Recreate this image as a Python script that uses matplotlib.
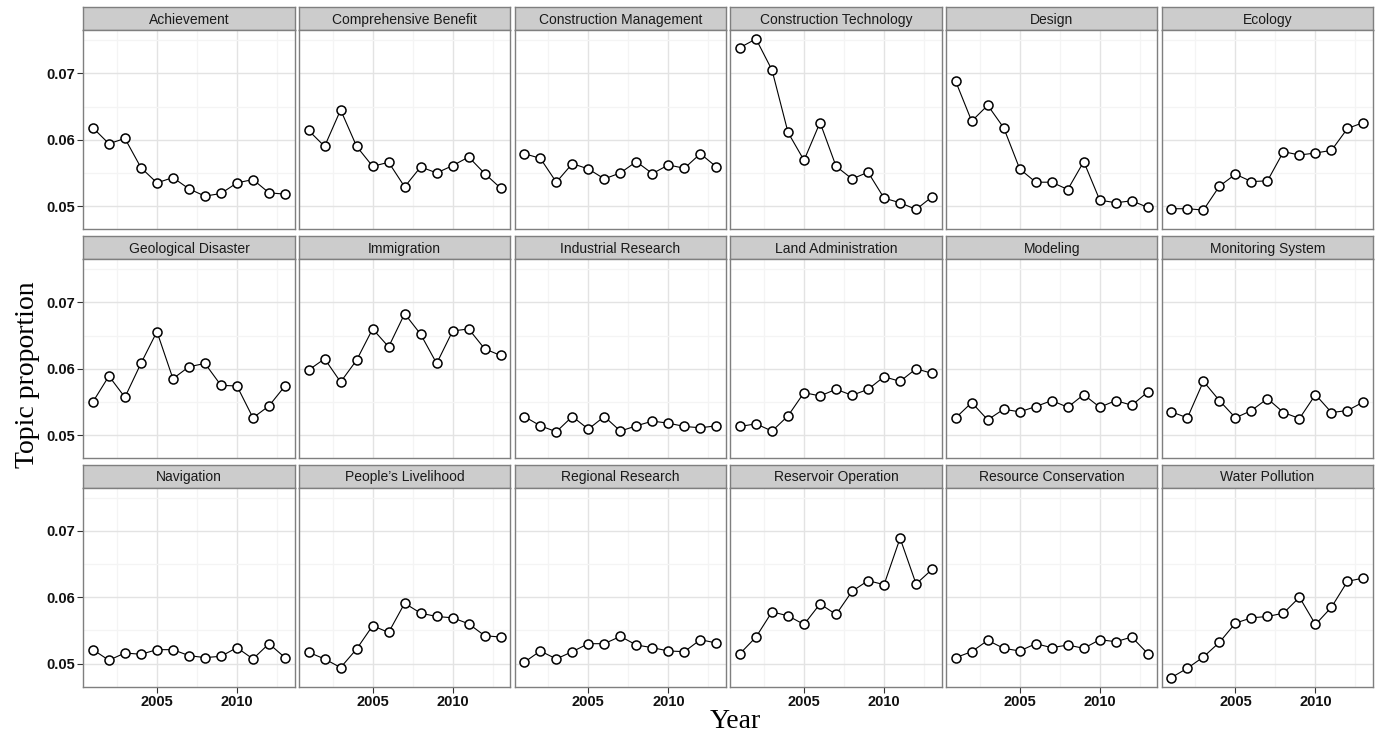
import numpy as np
import matplotlib
matplotlib.use("Agg")
import matplotlib.pyplot as plt

years = np.arange(2001, 2014)

achievement = [0.0618, 0.0594, 0.0602, 0.0558, 0.0535, 0.0543, 0.0526, 0.0515, 0.0519, 0.0535, 0.0540, 0.0520, 0.0518]
comprehensive_benefit = [0.0614, 0.0590, 0.0645, 0.0590, 0.0560, 0.0566, 0.0529, 0.0559, 0.0550, 0.0561, 0.0574, 0.0549, 0.0527]
construction_management = [0.0579, 0.0572, 0.0536, 0.0564, 0.0556, 0.0541, 0.0550, 0.0567, 0.0549, 0.0562, 0.0557, 0.0579, 0.0559]
construction_technology = [0.0739, 0.0752, 0.0705, 0.0611, 0.0569, 0.0626, 0.0560, 0.0541, 0.0551, 0.0512, 0.0505, 0.0495, 0.0514]
design = [0.0688, 0.0628, 0.0652, 0.0618, 0.0556, 0.0536, 0.0536, 0.0525, 0.0567, 0.0509, 0.0505, 0.0508, 0.0498]
ecology = [0.0496, 0.0496, 0.0494, 0.0530, 0.0548, 0.0537, 0.0538, 0.0582, 0.0577, 0.0580, 0.0584, 0.0617, 0.0626]
geological_disaster = [0.0550, 0.0589, 0.0557, 0.0608, 0.0656, 0.0585, 0.0603, 0.0608, 0.0575, 0.0574, 0.0526, 0.0544, 0.0574]
immigration = [0.0598, 0.0615, 0.0580, 0.0613, 0.0660, 0.0633, 0.0683, 0.0652, 0.0608, 0.0657, 0.0660, 0.0630, 0.0620]
industrial_research = [0.0528, 0.0514, 0.0505, 0.0528, 0.0509, 0.0528, 0.0506, 0.0514, 0.0521, 0.0518, 0.0513, 0.0511, 0.0514]
land_administration = [0.0513, 0.0517, 0.0506, 0.0529, 0.0564, 0.0559, 0.0569, 0.0560, 0.0569, 0.0588, 0.0581, 0.0600, 0.0593]
modeling = [0.0526, 0.0549, 0.0523, 0.0539, 0.0535, 0.0543, 0.0552, 0.0542, 0.0561, 0.0542, 0.0552, 0.0545, 0.0565]
monitoring_system = [0.0535, 0.0526, 0.0581, 0.0552, 0.0526, 0.0537, 0.0555, 0.0534, 0.0525, 0.0561, 0.0534, 0.0537, 0.0550]
navigation = [0.0521, 0.0505, 0.0516, 0.0514, 0.0521, 0.0521, 0.0512, 0.0509, 0.0511, 0.0524, 0.0507, 0.0530, 0.0509]
peoples_livelihood = [0.0517, 0.0507, 0.0494, 0.0522, 0.0557, 0.0547, 0.0591, 0.0576, 0.0571, 0.0569, 0.0560, 0.0542, 0.0540]
regional_research = [0.0502, 0.0519, 0.0507, 0.0518, 0.0530, 0.0530, 0.0541, 0.0528, 0.0524, 0.0519, 0.0518, 0.0536, 0.0531]
reservoir_operation = [0.0515, 0.0540, 0.0578, 0.0572, 0.0559, 0.0590, 0.0574, 0.0609, 0.0625, 0.0619, 0.0689, 0.0620, 0.0642]
resource_conservation = [0.0509, 0.0518, 0.0535, 0.0523, 0.0519, 0.0530, 0.0524, 0.0528, 0.0523, 0.0536, 0.0533, 0.0540, 0.0515]
water_pollution = [0.0479, 0.0493, 0.0510, 0.0532, 0.0561, 0.0569, 0.0571, 0.0576, 0.0600, 0.0559, 0.0585, 0.0624, 0.0629]

topics = [
    ("Achievement", achievement),
    ("Comprehensive Benefit", comprehensive_benefit),
    ("Construction Management", construction_management),
    ("Construction Technology", construction_technology),
    ("Design", design),
    ("Ecology", ecology),
    ("Geological Disaster", geological_disaster),
    ("Immigration", immigration),
    ("Industrial Research", industrial_research),
    ("Land Administration", land_administration),
    ("Modeling", modeling),
    ("Monitoring System", monitoring_system),
    ("Navigation", navigation),
    ("People\u2019s Livelihood", peoples_livelihood),
    ("Regional Research", regional_research),
    ("Reservoir Operation", reservoir_operation),
    ("Resource Conservation", resource_conservation),
    ("Water Pollution", water_pollution),
]

W, H = 1375, 739
NCOL = 6
LEFT0, STEP, PW = 83.3, 215.7, 211.3
ROW_TOP = [7.0, 236.0, 464.5]
SH, PH = 23.3, 199.0
GREY50 = "#7f7f7f"


def box(x0, y0, w, h):
    # pixel box (top-left origin) -> figure fraction
    return [x0 / W, 1 - (y0 + h) / H, w / W, h / H]


fig = plt.figure(figsize=(W / 100, H / 100), dpi=100)
fig.patch.set_facecolor("white")

for i, (name, vals) in enumerate(topics):
    r, c = divmod(i, NCOL)
    x0 = LEFT0 + c * STEP
    top = ROW_TOP[r]

    # strip
    sx = fig.add_axes(box(x0, top, PW, SH))
    sx.set_facecolor("#cccccc")
    sx.set_xticks([]); sx.set_yticks([])
    for sp in sx.spines.values():
        sp.set_color(GREY50); sp.set_linewidth(1.0)
    sx.text(0.5, 0.46, name, transform=sx.transAxes, ha="center", va="center",
            fontsize=10, family="Liberation Sans", color="#1a1a1a")

    ax = fig.add_axes(box(x0, top + SH, PW, PH))
    ax.set_xlim(2000.4, 2013.6)
    ax.set_ylim(0.0465, 0.0765)
    ax.set_xticks([2005, 2010])
    ax.set_xticks([2002.5, 2007.5, 2012.5], minor=True)
    ax.set_yticks([0.05, 0.06, 0.07])
    ax.set_yticks([0.055, 0.065, 0.075], minor=True)
    ax.grid(which="major", color="#e3e3e3", linewidth=1.0)
    ax.grid(which="minor", color="#f4f4f4", linewidth=0.9)
    ax.set_axisbelow(True)
    for sp in ax.spines.values():
        sp.set_color(GREY50); sp.set_linewidth(1.0)
    ax.tick_params(which="minor", length=0)
    ax.tick_params(which="major", length=4, width=0.8, color="#333333",
                   labelsize=10.5, pad=2)

    ax.plot(years, vals, color="black", linewidth=0.8, zorder=3,
            marker="o", markersize=6.5, markerfacecolor="white",
            markeredgecolor="black", markeredgewidth=1.1)

    if c == 0:
        ax.set_yticklabels(["0.05", "0.06", "0.07"], fontweight="bold",
                           family="Liberation Sans", color="#111111")
    else:
        ax.tick_params(axis="y", length=0, labelleft=False)
    if r == 2:
        ax.set_xticklabels(["2005", "2010"], fontweight="bold",
                           family="Liberation Sans", color="#111111")
    else:
        ax.tick_params(axis="x", length=0, labelbottom=False)

fig.text(735 / W, 1 - 722 / H, "Year", ha="center", va="center",
         fontsize=20, family="Liberation Serif")
fig.text(28 / W, 1 - 375 / H, "Topic proportion", ha="center", va="center",
         rotation=90, fontsize=20, family="Liberation Serif")

fig.savefig("out.png", dpi=100)
